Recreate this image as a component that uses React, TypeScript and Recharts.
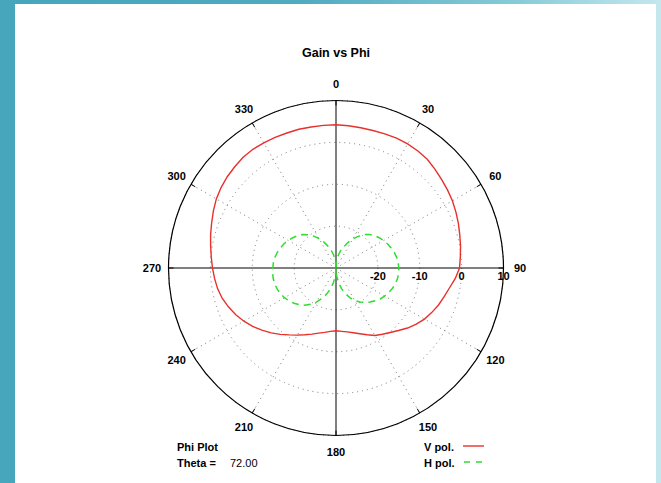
import React from 'react';
import { RadarChart, PolarGrid, PolarAngleAxis, PolarRadiusAxis, Radar } from 'recharts';

// Azimuth (degrees, clockwise from top)
const PHI = [
  0, 5, 10, 15, 20, 25, 30, 35, 40, 45, 50, 55, 60, 65, 70, 75, 80, 85,
  90, 95, 100, 105, 110, 115, 120, 125, 130, 135, 140, 145, 150, 155, 160, 165, 170, 175,
  180, 185, 190, 195, 200, 205, 210, 215, 220, 225, 230, 235, 240, 245, 250, 255, 260, 265,
  270, 275, 280, 285, 290, 295, 300, 305, 310, 315, 320, 325, 330, 335, 340, 345, 350, 355,
];

// Gain in dB, vertical polarisation
const V_POL = [
  4.2, 4.1, 4.0, 4.0, 4.1, 4.2, 4.2, 4.1, 3.9, 3.4, 2.9, 2.5, 2.1, 1.6, 1.1, 0.6, 0.2, -0.2,
  -0.5, -1.4, -2.5, -3.3, -4.0, -4.8, -5.6, -6.6, -7.7, -8.9, -9.9, -10.7, -11.4, -12.4, -13.3, -14.0, -14.5, -14.8,
  -15.0, -14.8, -14.4, -13.9, -13.2, -12.4, -11.5, -10.5, -9.3, -8.1, -6.9, -5.7, -4.6, -3.6, -2.7, -1.9, -1.3, -0.9,
  -0.5, -0.1, 0.4, 1.0, 1.6, 2.3, 3.0, 3.5, 3.9, 4.2, 4.5, 4.6, 4.5, 4.4, 4.3, 4.3, 4.2, 4.2,
];

// Gain in dB, horizontal polarisation
const H_POL = [
  -30.0, -28.3, -26.9, -25.7, -24.6, -23.3, -22.0, -20.8, -19.6, -18.7, -18.0, -17.4, -16.9, -16.4, -16.0, -15.6, -15.3, -15.1,
  -15.0, -15.0, -15.1, -15.3, -15.7, -16.1, -16.6, -17.1, -17.8, -18.5, -19.3, -20.1, -21.0, -22.2, -23.5, -24.9, -26.4, -28.1,
  -30.0, -28.1, -26.4, -24.8, -23.3, -21.9, -20.6, -19.4, -18.4, -17.6, -16.9, -16.3, -15.8, -15.4, -15.1, -14.9, -14.8, -14.8,
  -14.9, -15.0, -15.2, -15.5, -15.9, -16.3, -16.8, -17.4, -18.0, -18.7, -19.6, -20.7, -21.9, -23.2, -24.5, -25.7, -26.9, -28.3,
];

const ANGLE_LABELS = [0, 30, 60, 90, 120, 150, 180, 210, 240, 270, 300, 330];
const GAIN_TICKS = [-30, -20, -10, 0, 10];

const rows = PHI.map((phi, i) => ({ phi, v: V_POL[i], h: H_POL[i] }));

const CX = 336;
const CY = 268;
const OUTER = 167.5;
const FONT = '"Liberation Sans", Arial, Helvetica, sans-serif';
const RED = '#e8302c';
const GREEN = '#2fdc2f';

function AngleTick(props: any) {
  const { x, y, payload } = props;
  const cx = typeof props.cx === 'number' ? props.cx : CX;
  const cy = typeof props.cy === 'number' ? props.cy : CY;
  if (!ANGLE_LABELS.includes(payload.value)) return <g />;
  const dx = x - cx;
  const dy = y - cy;
  const len = Math.hypot(dx, dy) || 1;
  const ux = dx / len;
  const uy = dy / len;
  return (
    <g>
      <line
        x1={cx + ux * OUTER}
        y1={cy + uy * OUTER}
        x2={cx + ux * (OUTER - 5)}
        y2={cy + uy * (OUTER - 5)}
        stroke="#000"
        strokeWidth={1}
      />
      <text
        x={cx + ux * 184}
        y={cy + uy * 184}
        textAnchor="middle"
        dominantBaseline="central"
        fontFamily={FONT}
        fontWeight="bold"
        fontSize={11}
        fill="#000"
      >
        {payload.value}
      </text>
    </g>
  );
}

function GainTick(props: any) {
  const { x, y, payload } = props;
  if (payload.value <= -30) return <g />;
  return (
    <text
      x={x}
      y={y + 8}
      textAnchor="middle"
      dominantBaseline="central"
      fontFamily={FONT}
      fontWeight="bold"
      fontSize={11}
      fill="#000"
    >
      {payload.value}
    </text>
  );
}

export default function App() {
  return (
    <div
      style={{
        position: 'absolute',
        left: 0,
        top: 0,
        width: 661,
        height: 483,
        overflow: 'hidden',
        background: 'linear-gradient(90deg, #47a5bc 0%, #50aac0 45%, #86cbd8 78%, #c4e7ed 100%)',
      }}
    >
      <div style={{ position: 'absolute', left: 15, top: 4, width: 641, height: 479, background: '#ffffff' }} />
      <div style={{ position: 'absolute', left: 0, top: 0 }}>
        <RadarChart
          width={661}
          height={483}
          data={rows}
          cx={CX}
          cy={CY}
          outerRadius={OUTER}
          startAngle={90}
          endAngle={-270}
          margin={{ top: 0, right: 0, bottom: 0, left: 0 }}
        >
          <PolarGrid
            gridType="circle"
            polarAngles={[60, 30, -30, -60, -120, -150, 150, 120]}
            stroke="#777"
            strokeDasharray="1 4"
          />
          <PolarGrid gridType="circle" polarAngles={[90, 0, -90, 180]} polarRadius={[]} stroke="#000" />
          <PolarAngleAxis
            dataKey="phi"
            axisLineType="circle"
            axisLine={{ stroke: '#000', strokeWidth: 1.2 }}
            tickLine={false}
            tick={AngleTick}
          />
          <PolarRadiusAxis
            angle={0}
            type="number"
            domain={[-30, 10]}
            ticks={GAIN_TICKS}
            tickCount={5}
            axisLine={false}
            tickLine={false}
            tick={GainTick}
          />
          <Radar
            name="V pol."
            dataKey="v"
            stroke={RED}
            strokeWidth={1.4}
            fill="none"
            fillOpacity={0}
            dot={false}
            isAnimationActive={false}
          />
          <Radar
            name="H pol."
            dataKey="h"
            stroke={GREEN}
            strokeWidth={1.5}
            strokeDasharray="7 5"
            fill="none"
            fillOpacity={0}
            dot={false}
            isAnimationActive={false}
          />
        </RadarChart>
      </div>
      <svg width={661} height={483} style={{ position: 'absolute', left: 0, top: 0 }}>
        <g fontFamily={FONT} fontWeight="bold" fill="#000">
          <text x={336} y={57} textAnchor="middle" fontSize={12.5}>Gain vs Phi</text>
          <text x={177} y={451} fontSize={11}>Phi Plot</text>
          <text x={177} y={467} fontSize={11}>Theta =</text>
          <text x={230} y={467} fontSize={11} fontWeight="normal">72.00</text>
          <text x={424} y={451} fontSize={11}>V pol.</text>
          <text x={424} y={467} fontSize={11}>H pol.</text>
        </g>
        <line x1={463} y1={446} x2={484} y2={446} stroke={RED} strokeWidth={1.4} />
        <line x1={464} y1={462} x2={484} y2={462} stroke={GREEN} strokeWidth={1.5} strokeDasharray="6 6" />
      </svg>
    </div>
  );
}
